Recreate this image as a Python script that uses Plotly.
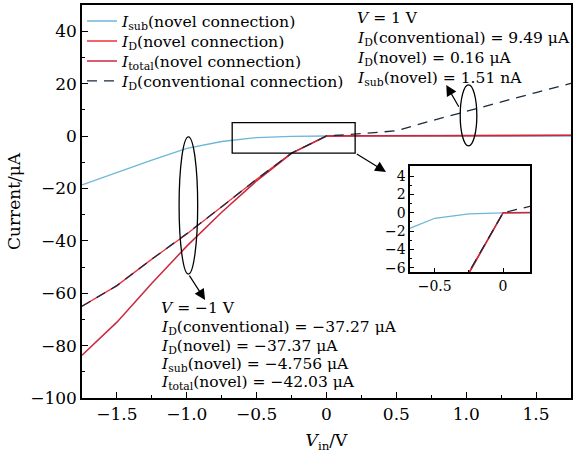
import plotly.graph_objects as go

# Input voltage sweep (V)
v_in = [-1.75, -1.5, -1.25, -1.0, -0.75, -0.5, -0.25, 0.0,
        0.25, 0.5, 0.75, 1.0, 1.25, 1.5, 1.75]

# Currents in µA
i_sub_novel = [-18.7, -13.95, -9.2, -4.756, -2.1, -0.6, -0.12, 0.0,
               0.0004, 0.0008, 0.0011, 0.00151, 0.0018, 0.0021, 0.0024]
i_d_novel = [-65.0, -57.1, -47.0, -37.37, -27.0, -16.5, -6.5, 0.0,
             0.05, 0.09, 0.13, 0.16, 0.19, 0.22, 0.25]
i_total_novel = [-83.7, -71.05, -56.2, -42.03, -29.1, -17.1, -6.62, 0.0,
                 0.05, 0.09, 0.13, 0.16, 0.19, 0.22, 0.25]
i_d_conv = [-65.0, -57.1, -47.0, -37.27, -27.0, -16.5, -6.5, 0.0,
            0.9, 2.0, 5.8, 9.49, 13.1, 16.6, 20.1]

x_ticks = [-1.5, -1.0, -0.5, 0.0, 0.5, 1.0, 1.5]
x_tick_text = ["\u22121.5", "\u22121.0", "\u22120.5", "0", "0.5", "1.0", "1.5"]
y_ticks = [40, 20, 0, -20, -40, -60, -80, -100]
y_tick_text = ["40", "20", "0", "\u221220", "\u221240", "\u221260", "\u221280", "\u2212100"]

inset_x_ticks = [-0.5, 0.0]
inset_x_text = ["\u22120.5", "0"]
inset_y_ticks = [4, 2, 0, -2, -4, -6]
inset_y_text = ["4", "2", "0", "\u22122", "\u22124", "\u22126"]

FONT = "DejaVu Serif"
BLUE = "#6db6da"
RED = "#ee2f3a"
CRIMSON = "#c9283d"
DARK = "#1b2a3c"

series = [
    ("<i>I</i><sub>sub</sub>(novel connection)", i_sub_novel, BLUE, 1.3, "solid"),
    ("<i>I</i><sub>D</sub>(novel connection)", i_d_novel, RED, 1.3, "solid"),
    ("<i>I</i><sub>total</sub>(novel connection)", i_total_novel, CRIMSON, 1.5, "solid"),
    ("<i>I</i><sub>D</sub>(conventional connection)", i_d_conv, DARK, 1.3, "10px,7px"),
]
legend_names = ["legend", "legend2", "legend3", "legend4"]
legend_rows = [0.9585, 0.9076, 0.8567, 0.8060]

fig = go.Figure()
for (name, ys, color, width, dash), lg in zip(series, legend_names):
    fig.add_trace(go.Scatter(x=v_in, y=ys, mode="lines", name=name, legend=lg,
                             line=dict(color=color, width=width, dash=dash)))
for name, ys, color, width, dash in series:
    fig.add_trace(go.Scatter(x=v_in, y=ys, mode="lines", showlegend=False,
                             line=dict(color=color, width=width, dash=dash),
                             xaxis="x2", yaxis="y2"))

axis_common = dict(showline=True, linecolor="black", linewidth=1.5, mirror=True,
                   showgrid=False, zeroline=False, ticks="inside",
                   tickcolor="black", tickwidth=1.2)

legend_style = dict(x=0.0, xanchor="left", yanchor="middle",
                    bgcolor="rgba(0,0,0,0)", font=dict(size=15.7))

fig.update_layout(
    width=574, height=457,
    margin=dict(l=82, r=1, t=5, b=59),
    paper_bgcolor="white", plot_bgcolor="white",
    font=dict(family=FONT, size=15.5, color="black"),
    xaxis=dict(range=[-1.75, 1.75], tickvals=x_ticks, ticktext=x_tick_text,
               ticklen=6, tickfont=dict(size=17),
               minor=dict(ticks="inside", dtick=0.25, ticklen=3, tickcolor="black"),
               title=dict(text="<i>V</i><sub>in</sub>/V", font=dict(size=17), standoff=11),
               **axis_common),
    yaxis=dict(range=[-100, 50], tickvals=y_ticks, ticktext=y_tick_text,
               ticklen=6, tickfont=dict(size=17),
               minor=dict(ticks="inside", dtick=10, ticklen=3, tickcolor="black"),
               title=dict(text="Current/\u03bcA", font=dict(size=17), standoff=5),
               **axis_common),
    xaxis2=dict(domain=[0.671, 0.917], anchor="y2", range=[-0.68, 0.2],
                tickvals=inset_x_ticks, ticktext=inset_x_text, ticklen=4,
                tickfont=dict(size=14),
                minor=dict(ticks="inside", dtick=0.25, ticklen=2, tickcolor="black"),
                **axis_common),
    yaxis2=dict(domain=[0.320, 0.590], anchor="x2", range=[-6.5, 5.1],
                tickvals=inset_y_ticks, ticktext=inset_y_text, ticklen=4,
                tickfont=dict(size=14),
                minor=dict(ticks="inside", dtick=1, ticklen=2, tickcolor="black"),
                **axis_common),
    showlegend=True,
)
for lg, ry in zip(legend_names, legend_rows):
    fig.update_layout({lg: dict(y=ry, **legend_style)})

# Zoom window, and ellipses grouping the curves at V = ±1 V
fig.add_shape(type="rect", xref="x", yref="y", x0=-0.675, x1=0.205, y0=-6.5, y1=5.1,
              line=dict(color="black", width=1.3))
fig.add_shape(type="circle", xref="x", yref="y", x0=-1.055, x1=-0.922, y0=-52.7, y1=-0.3,
              line=dict(color="black", width=1.3))
fig.add_shape(type="circle", xref="x", yref="y", x0=0.957, x1=1.076, y0=-3.8, y1=19.5,
              line=dict(color="black", width=1.3))

arrows = [
    (-0.869, -62.6, -0.988, -52.7),
    (0.857, 19.5, 0.953, 10.6),
    (0.426, -13.7, 0.206, -6.5),
]
for hx, hy, tx, ty in arrows:
    fig.add_annotation(x=hx, y=hy, ax=tx, ay=ty, xref="x", yref="y",
                       axref="x", ayref="y", text="", showarrow=True,
                       arrowhead=2, arrowsize=1.8, arrowwidth=1.2, arrowcolor="black")

right_lines = [
    ("<i>V</i> = 1 V", 45.0),
    ("<i>I</i><sub>D</sub>(conventional) = 9.49 \u03bcA", 37.0),
    ("<i>I</i><sub>D</sub>(novel) = 0.16 \u03bcA", 29.4),
    ("<i>I</i><sub>sub</sub>(novel) = 1.51 nA", 21.8),
]
left_lines = [
    ("<i>V</i> = \u22121 V", -65.6),
    ("<i>I</i><sub>D</sub>(conventional) = \u221237.27 \u03bcA", -73.3),
    ("<i>I</i><sub>D</sub>(novel) = \u221237.37 \u03bcA", -80.5),
    ("<i>I</i><sub>sub</sub>(novel) = \u22124.756 \u03bcA", -87.4),
    ("<i>I</i><sub>total</sub>(novel) = \u221242.03 \u03bcA", -94.3),
]
for text, y in right_lines:
    fig.add_annotation(x=0.205, y=y, xref="x", yref="y", text=text, showarrow=False,
                       xanchor="left", yanchor="middle", font=dict(size=15.5))
for text, y in left_lines:
    fig.add_annotation(x=-1.202, y=y, xref="x", yref="y", text=text, showarrow=False,
                       xanchor="left", yanchor="middle", font=dict(size=15.5))

fig.write_html("out.html")
